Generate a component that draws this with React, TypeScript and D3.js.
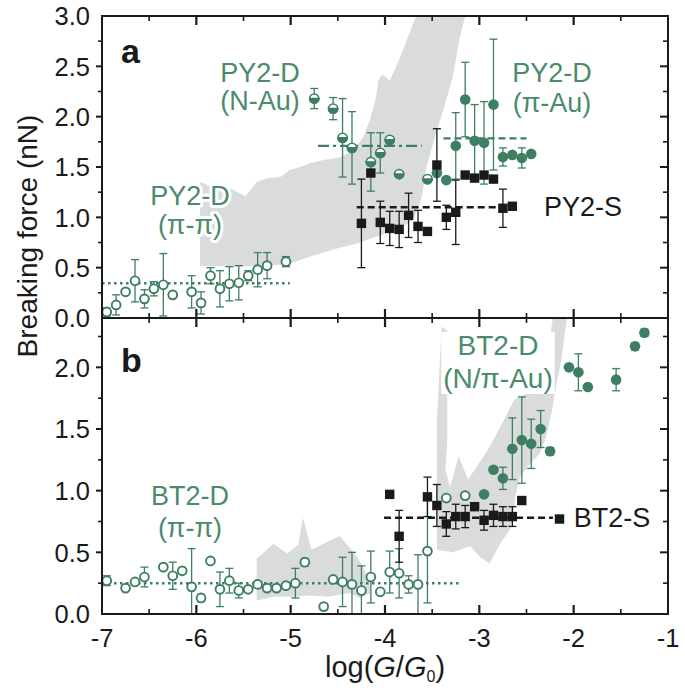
import React, { useEffect, useRef } from "react";
import * as d3 from "d3";

const W = 685;
const H = 693;
const FONT = "'Liberation Sans', Arial, Helvetica, sans-serif";
const GREEN = "#3d7f60";
const GREEN_TXT = "#4a8b6b";
const BLACK = "#1a1a1a";
const GRAY = "#dadbdc";

const xTicks = [-7, -6, -5, -4, -3, -2, -1];
const yTicksA = [0, 0.5, 1, 1.5, 2, 2.5, 3];
const yTicksB = [0, 0.5, 1, 1.5, 2];

// ---------- Panel a ----------
// PY2-D (pi-pi), open circles
const aPiPiX = [-6.95, -6.85, -6.75, -6.65, -6.55, -6.45, -6.35, -6.25, -6.05, -5.95, -5.85, -5.75, -5.65, -5.55, -5.45, -5.35, -5.25, -5.05];
const aPiPiY = [0.06, 0.13, 0.26, 0.37, 0.19, 0.29, 0.33, 0.23, 0.26, 0.15, 0.42, 0.29, 0.34, 0.35, 0.42, 0.48, 0.52, 0.56];
const aPiPiE = [0.04, 0.1, 0, 0.21, 0.09, 0.07, 0.31, 0, 0.16, 0.11, 0.08, 0.18, 0.17, 0.17, 0.05, 0.17, 0.13, 0.05];
// PY2-D (N-Au), half-filled circles
const aNAuX = [-4.75, -4.55, -4.45, -4.35, -4.15, -4.05, -3.95, -3.85, -3.55];
const aNAuY = [2.18, 2.08, 1.79, 1.69, 1.55, 1.64, 1.77, 1.43, 1.38];
const aNAuE = [0.1, 0.11, 0.39, 0.36, 0.29, 0.2, 0, 0, 0];
// PY2-D (pi-Au), filled circles
const aPiAuX = [-3.45, -3.35, -3.25, -3.15, -3.05, -2.95, -2.85, -2.75, -2.65, -2.55, -2.45];
const aPiAuY = [1.44, 1.37, 1.71, 2.17, 1.76, 1.74, 2.12, 1.6, 1.62, 1.59, 1.63];
const aPiAuE = [0, 0, 0.33, 0.37, 0.36, 0.41, 0.65, 0.09, 0, 0.1, 0];
// PY2-S, black squares
const aSX = [-4.25, -4.15, -4.05, -3.95, -3.85, -3.75, -3.65, -3.55, -3.45, -3.35, -3.25, -3.15, -3.05, -2.95, -2.85, -2.75, -2.65];
const aSY = [0.94, 1.44, 0.95, 0.89, 0.88, 1.02, 0.91, 0.86, 1.52, 1.0, 1.05, 1.42, 1.39, 1.42, 1.38, 1.09, 1.11];
const aSE = [0.44, 0, 0.21, 0.17, 0.18, 0.22, 0.16, 0, 0.36, 0.12, 0.32, 0, 0, 0, 0, 0.19, 0];
// shaded region a (polygon)
const bandAX = [-5.96, -5.96, -5.8, -5.66, -5.48, -5.36, -5.24, -5.11, -5.01, -4.9, -4.79, -4.65, -4.47, -4.33, -4.23, -4.16, -4.1, -4.07, -4.03, -3.95, -3.88, -3.81, -3.74, -3.67, -3.15, -3.22, -3.28, -3.38, -3.47, -3.56, -3.61, -3.7, -3.88, -4.09, -4.3, -4.55, -4.79, -5.01, -5.25, -5.54];
const bandAY = [0.52, 1.35, 1.29, 1.3, 1.21, 1.35, 1.39, 1.4, 1.47, 1.5, 1.54, 1.57, 1.6, 1.67, 1.8, 1.97, 2.17, 2.36, 2.42, 2.36, 2.5, 2.66, 2.83, 3.0, 3.0, 2.73, 2.4, 2.07, 1.8, 1.5, 1.2, 0.97, 0.87, 0.81, 0.74, 0.68, 0.61, 0.54, 0.52, 0.51];

// ---------- Panel b ----------
// BT2-D (pi-pi), open circles
const bPiPiX = [-6.95, -6.75, -6.65, -6.55, -6.35, -6.25, -6.15, -6.05, -5.95, -5.85, -5.75, -5.65, -5.55, -5.45, -5.35, -5.25, -5.15, -5.05, -4.95, -4.85, -4.65, -4.55, -4.45, -4.35, -4.25, -4.15, -4.05, -3.95, -3.85, -3.75, -3.65, -3.55, -3.35, -3.15];
const bPiPiY = [0.27, 0.21, 0.26, 0.3, 0.38, 0.31, 0.35, 0.22, 0.13, 0.43, 0.2, 0.27, 0.19, 0.2, 0.24, 0.21, 0.21, 0.23, 0.25, 0.42, 0.06, 0.28, 0.26, 0.24, 0.19, 0.3, 0.18, 0.34, 0.33, 0.24, 0.24, 0.51, 0.94, 0.96];
const bPiPiE = [0.04, 0, 0, 0.08, 0, 0.11, 0, 0.31, 0.03, 0, 0.14, 0.1, 0.06, 0, 0, 0, 0, 0, 0.12, 0.03, 0, 0, 0.2, 0.26, 0.2, 0.21, 0, 0.17, 0.2, 0.07, 0.24, 0.42, 0, 0];
// BT2-D (N/pi-Au), filled circles
const bAuX = [-2.95, -2.85, -2.75, -2.65, -2.55, -2.45, -2.35, -2.25, -2.05, -1.95, -1.85, -1.55, -1.35, -1.25];
const bAuY = [0.97, 1.17, 1.1, 1.34, 1.41, 1.38, 1.5, 1.32, 2.0, 1.96, 1.84, 1.9, 2.17, 2.28];
const bAuE = [0, 0, 0.09, 0.25, 0.35, 0.2, 0.15, 0.03, 0, 0.15, 0, 0.09, 0.03, 0.03];
// BT2-S, black squares
const bSX = [-3.95, -3.85, -3.55, -3.45, -3.35, -3.25, -3.15, -3.05, -2.95, -2.85, -2.75, -2.65, -2.55, -2.15];
const bSY = [0.97, 0.63, 0.95, 0.88, 0.73, 0.79, 0.79, 0.87, 0.76, 0.8, 0.79, 0.79, 0.92, 0.77];
const bSE = [0.03, 0.21, 0.16, 0.17, 0.1, 0.1, 0.09, 0, 0.08, 0.09, 0.08, 0.08, 0, 0];
// shaded regions b (polygons)
const bandB1X = [-5.36, -5.36, -5.18, -5.04, -4.92, -4.87, -4.78, -4.6, -4.48, -4.32, -4.23, -4.17, -4.15, -4.27, -4.37, -4.6, -4.78, -5.0, -5.18];
const bandB1Y = [0.11, 0.45, 0.57, 0.49, 0.56, 0.78, 0.52, 0.59, 0.63, 0.49, 0.38, 0.28, 0.17, 0.13, 0.17, 0.14, 0.15, 0.14, 0.14];
const bandB2X = [-3.45, -3.45, -3.4, -3.34, -3.34, -3.36, -3.31, -3.22, -3.12, -3.05, -2.91, -2.74, -2.63, -2.49, -2.35, -2.28, -2.22, -2.07, -2.09, -2.13, -2.18, -2.23, -2.29, -2.36, -2.46, -2.57, -2.62, -2.64, -2.68, -2.78, -2.89, -2.99, -3.1, -3.28];
const bandB2Y = [0.52, 1.57, 2.33, 2.3, 1.4, 1.17, 1.03, 1.28, 1.09, 1.17, 1.33, 1.57, 1.74, 1.79, 1.9, 2.1, 2.4, 2.4, 2.3, 2.06, 1.87, 1.65, 1.44, 1.3, 1.22, 1.11, 0.95, 0.79, 0.68, 0.57, 0.41, 0.46, 0.55, 0.5];

// reference lines: [x1, x2, y]
const aPiPiLine = [-7, -5.01, 0.345];
const aNAuLine = [-4.71, -3.61, 1.71];
const aPiAuLine = [-3.38, -2.5, 1.785];
const aSLine = [-4.3, -2.75, 1.1];
const bPiPiLine = [-7, -3.21, 0.25];
const bSLine = [-4.01, -2.22, 0.78];

export default function App() {
  const ref = useRef<SVGSVGElement>(null);

  useEffect(() => {
    const svg = d3.select(ref.current);
    svg.selectAll("*").remove();

    const x = d3.scaleLinear().domain([-7, -1]).range([102, 668]);
    const yA = d3.scaleLinear().domain([0, 3]).range([318, 16]);
    const yB = d3.scaleLinear().domain([0, 2.4]).range([614, 318]);

    svg.append("rect").attr("width", W).attr("height", H).attr("fill", "white");

    const clipA = svg.append("clipPath").attr("id", "clipA");
    clipA.append("rect").attr("x", 102).attr("y", 16).attr("width", 566).attr("height", 302);
    const clipB = svg.append("clipPath").attr("id", "clipB");
    clipB.append("rect").attr("x", 102).attr("y", 318).attr("width", 566).attr("height", 296);

    const gA = svg.append("g").attr("clip-path", "url(#clipA)");
    const gB = svg.append("g").attr("clip-path", "url(#clipB)");

    const poly = (g: any, xs: number[], ys: number[], ys_scale: any) => {
      const pts = xs.map((v, i) => [x(v), ys_scale(ys[i])] as [number, number]);
      g.append("path")
        .attr("d", d3.line()(pts) + "Z")
        .attr("fill", GRAY)
        .attr("stroke", "none");
    };
    poly(gA, bandAX, bandAY, yA);
    poly(gB, bandB1X, bandB1Y, yB);
    poly(gB, bandB2X, bandB2Y, yB);

    // labels (with optional white box or halo)
    const label = (lines: string[], cx: number, baselines: number[], color: string, size: number, mode: string) => {
      const g = svg.append("g");
      const t = g.append("text")
        .attr("font-family", FONT)
        .attr("font-size", size)
        .attr("fill", color)
        .attr("text-anchor", "middle");
      if (mode === "halo") {
        t.attr("stroke", "white").attr("stroke-width", 6).attr("stroke-linejoin", "round").attr("paint-order", "stroke");
      }
      lines.forEach((s, i) => {
        t.append("tspan").attr("x", cx).attr("y", baselines[i]).text(s);
      });
      if (mode === "box") {
        const bb = (t.node() as SVGTextElement).getBBox();
        g.insert("rect", "text")
          .attr("x", bb.x - 2)
          .attr("y", bb.y + 2)
          .attr("width", bb.width + 4)
          .attr("height", bb.height - 2)
          .attr("fill", "white");
      }
    };

    const hline = (g: any, l: number[], ys: any, color: string, dash: string, w: number) => {
      g.append("line")
        .attr("x1", x(l[0])).attr("x2", x(l[1]))
        .attr("y1", ys(l[2])).attr("y2", ys(l[2]))
        .attr("stroke", color).attr("stroke-width", w).attr("stroke-dasharray", dash);
    };

    const errbars = (g: any, xs: number[], ys: number[], es: number[], ysc: any, color: string) => {
      xs.forEach((v, i) => {
        if (!es[i]) return;
        const cx = x(v);
        const y1 = ysc(ys[i] + es[i]);
        const y2 = ysc(ys[i] - es[i]);
        g.append("line").attr("x1", cx).attr("x2", cx).attr("y1", y1).attr("y2", y2)
          .attr("stroke", color).attr("stroke-width", 1.3);
        [y1, y2].forEach((yy) => {
          g.append("line").attr("x1", cx - 4).attr("x2", cx + 4).attr("y1", yy).attr("y2", yy)
            .attr("stroke", color).attr("stroke-width", 1.3);
        });
      });
    };

    const openCircles = (g: any, xs: number[], ys: number[], ysc: any) => {
      xs.forEach((v, i) => {
        g.append("circle").attr("cx", x(v)).attr("cy", ysc(ys[i])).attr("r", 4.4)
          .attr("fill", "white").attr("stroke", GREEN).attr("stroke-width", 1.9);
      });
    };
    const filledCircles = (g: any, xs: number[], ys: number[], ysc: any) => {
      xs.forEach((v, i) => {
        g.append("circle").attr("cx", x(v)).attr("cy", ysc(ys[i])).attr("r", 5.3)
          .attr("fill", GREEN);
      });
    };
    const halfCircles = (g: any, xs: number[], ys: number[], ysc: any) => {
      xs.forEach((v, i) => {
        const cx = x(v), cy = ysc(ys[i]), r = 4.6;
        g.append("circle").attr("cx", cx).attr("cy", cy).attr("r", r)
          .attr("fill", "white").attr("stroke", GREEN).attr("stroke-width", 1.6);
        g.append("path")
          .attr("d", `M${cx - r},${cy} A${r},${r} 0 0 0 ${cx + r},${cy} Z`)
          .attr("fill", GREEN).attr("stroke", GREEN).attr("stroke-width", 1.6);
      });
    };
    const squares = (g: any, xs: number[], ys: number[], ysc: any) => {
      xs.forEach((v, i) => {
        g.append("rect").attr("x", x(v) - 4.7).attr("y", ysc(ys[i]) - 4.7)
          .attr("width", 9.4).attr("height", 9.4).attr("fill", BLACK);
      });
    };

    // boxed labels first (they hide the band)
    label(["BT2-D", "(N/\u03c0-Au)"], 498, [355, 388], GREEN_TXT, 28, "box");

    // Panel a content
    hline(gA, aPiPiLine, yA, GREEN, "2.5,3.5", 2.5);
    hline(gA, aNAuLine, yA, GREEN, "11,4,3,4", 2.2);
    hline(gA, aPiAuLine, yA, GREEN, "7,4", 2.2);
    hline(gA, aSLine, yA, BLACK, "7,4", 2.6);
    errbars(gA, aPiPiX, aPiPiY, aPiPiE, yA, GREEN);
    errbars(gA, aNAuX, aNAuY, aNAuE, yA, GREEN);
    errbars(gA, aPiAuX, aPiAuY, aPiAuE, yA, GREEN);
    openCircles(gA, aPiPiX, aPiPiY, yA);
    halfCircles(gA, aNAuX, aNAuY, yA);
    filledCircles(gA, aPiAuX, aPiAuY, yA);
    errbars(gA, aSX, aSY, aSE, yA, BLACK);
    squares(gA, aSX, aSY, yA);

    // Panel b content
    hline(gB, bPiPiLine, yB, GREEN, "2.5,3.5", 2.5);
    hline(gB, bSLine, yB, BLACK, "7,4", 2.6);
    errbars(gB, bPiPiX, bPiPiY, bPiPiE, yB, GREEN);
    openCircles(gB, bPiPiX, bPiPiY, yB);
    errbars(gB, bAuX, bAuY, bAuE, yB, GREEN);
    filledCircles(gB, bAuX, bAuY, yB);
    errbars(gB, bSX, bSY, bSE, yB, BLACK);
    squares(gB, bSX, bSY, yB);

    // Frame & ticks
    const axisG = svg.append("g").attr("stroke", BLACK).attr("fill", "none");
    axisG.append("rect").attr("x", 102).attr("y", 16).attr("width", 566).attr("height", 598).attr("stroke-width", 2);
    axisG.append("line").attr("x1", 102).attr("x2", 668).attr("y1", 318).attr("y2", 318).attr("stroke-width", 2);

    const xMinor = d3.range(-6.5, -1, 1);
    const tick = (x1: number, y1: number, x2: number, y2: number, w: number) =>
      axisG.append("line").attr("x1", x1).attr("y1", y1).attr("x2", x2).attr("y2", y2).attr("stroke-width", w);
    xTicks.slice(1, -1).forEach((v) => {
      const px = x(v);
      tick(px, 16, px, 25, 2.2);
      tick(px, 309, px, 327, 2.2);
      tick(px, 614, px, 605, 2.2);
    });
    xMinor.forEach((v) => {
      const px = x(v);
      tick(px, 16, px, 21, 1.6);
      tick(px, 313, px, 323, 1.6);
      tick(px, 614, px, 609, 1.6);
    });
    const yMinorA = d3.range(0.25, 3, 0.5);
    const yMinorB = d3.range(0.25, 2.4, 0.25).filter((v) => Math.abs(v * 2 - Math.round(v * 2)) > 0.01);
    const yTick = (py: number, major: boolean) => {
      tick(102, py, major ? 96 : 98, py, major ? 2 : 1.6);
      tick(668, py, major ? 660 : 663, py, major ? 2 : 1.6);
    };
    yTicksA.slice(1, -1).forEach((v) => yTick(yA(v), true));
    yMinorA.forEach((v) => yTick(yA(v), false));
    yTicksB.slice(1).forEach((v) => yTick(yB(v), true));
    yMinorB.forEach((v) => yTick(yB(v), false));

    // Tick labels
    const tl = svg.append("g").attr("font-family", FONT).attr("font-size", 25.5).attr("fill", BLACK);
    yTicksA.forEach((v) => {
      tl.append("text").attr("x", 90).attr("y", yA(v)).attr("dy", "0.36em").attr("text-anchor", "end").text(v.toFixed(1));
    });
    yTicksB.forEach((v) => {
      tl.append("text").attr("x", 90).attr("y", yB(v)).attr("dy", "0.36em").attr("text-anchor", "end").text(v.toFixed(1));
    });
    xTicks.forEach((v) => {
      tl.append("text").attr("x", x(v)).attr("y", 647).attr("text-anchor", "middle").text(String(v));
    });

    // Axis titles
    svg.append("text")
      .attr("font-family", FONT).attr("font-size", 28).attr("fill", BLACK)
      .attr("text-anchor", "middle")
      .attr("transform", "translate(37,236) rotate(-90)")
      .text("Breaking force (nN)");
    const xt = svg.append("text")
      .attr("font-family", FONT).attr("font-size", 29).attr("fill", BLACK)
      .attr("text-anchor", "middle").attr("x", 385).attr("y", 677);
    xt.append("tspan").text("log(");
    xt.append("tspan").attr("font-style", "italic").text("G");
    xt.append("tspan").text("/");
    xt.append("tspan").attr("font-style", "italic").text("G");
    xt.append("tspan").attr("font-size", 16).attr("dy", 5).text("0");
    xt.append("tspan").attr("dy", -5).text(")");

    // Panel letters
    svg.append("text").attr("font-family", FONT).attr("font-weight", "bold").attr("font-size", 34)
      .attr("x", 121).attr("y", 63).attr("fill", BLACK).text("a");
    svg.append("text").attr("font-family", FONT).attr("font-weight", "bold").attr("font-size", 34)
      .attr("x", 121).attr("y", 372).attr("fill", BLACK).text("b");

    // Annotations
    label(["PY2-D", "(\u03c0-\u03c0)"], 190, [205, 234], GREEN_TXT, 27, "halo");
    label(["PY2-D", "(N-Au)"], 260, [82, 110], GREEN_TXT, 27, "none");
    label(["PY2-D", "(\u03c0-Au)"], 552, [82, 112], GREEN_TXT, 27, "none");
    label(["PY2-S"], 583, [216], BLACK, 27, "none");
    label(["BT2-D", "(\u03c0-\u03c0)"], 190, [505, 537], GREEN_TXT, 27, "none");
    label(["BT2-S"], 612, [527], BLACK, 27, "none");
  }, []);

  return (
    <div style={{ position: "absolute", left: 0, top: 0 }}>
      <svg ref={ref} width={W} height={H} style={{ display: "block" }} />
    </div>
  );
}
